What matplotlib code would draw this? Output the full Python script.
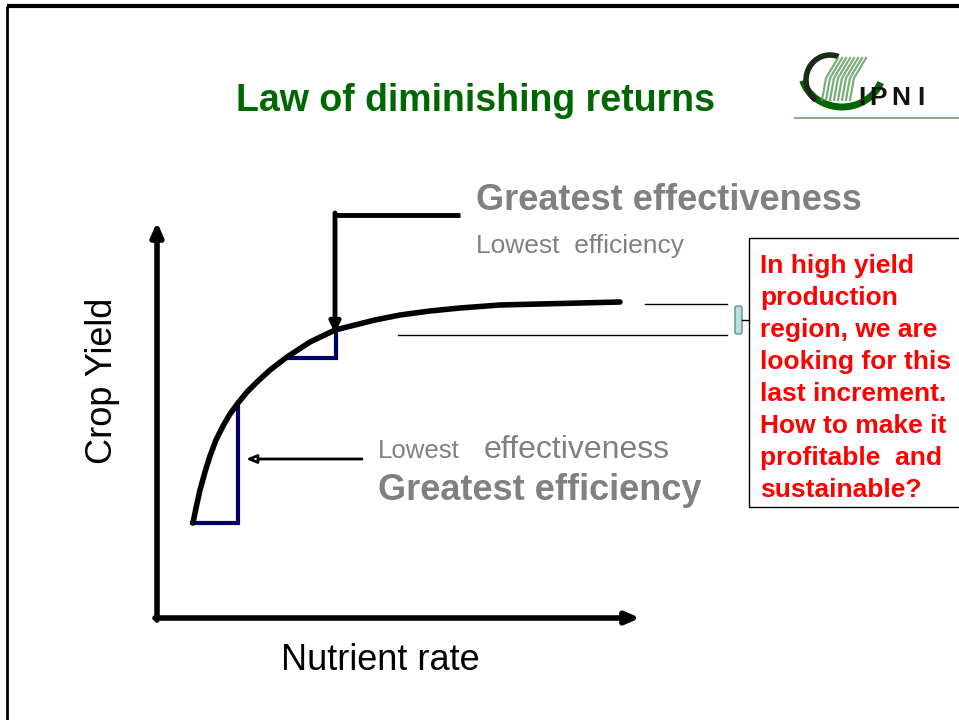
import matplotlib
matplotlib.use("Agg")
import matplotlib.pyplot as plt
from matplotlib.patches import Arc, Rectangle, FancyBboxPatch
import numpy as np

plt.rcParams['font.family'] = ['Liberation Sans', 'DejaVu Sans']

# ---- data (diagram coordinates in slide pixels) ----
curve_x = [193, 196, 200, 205, 210, 216, 223, 230, 238, 247, 257, 270, 287, 310, 335, 355,
           375, 400, 430, 460, 500, 540, 580, 620]
curve_y = [523, 508, 490, 472, 456, 440, 426, 414, 403, 392, 382, 370, 357, 342, 330, 325,
           320, 315, 311, 308, 305, 304, 303, 302]

step1_x = [192, 238, 238]
step1_y = [523, 523, 403]
step2_x = [286, 336, 336]
step2_y = [358, 358, 330]

title = "Law of diminishing returns"
box_lines = ["In high yield", "production", "region, we are", "looking for this",
             "last increment.", "How to make it", "profitable  and", "sustainable?"]
logo_letters = ["I", "P", "N", "I"]

GREEN = "#006600"
GRAY = "#808080"
NAVY = "#000066"

fig = plt.figure(figsize=(9.59, 7.2), dpi=100)
ax = fig.add_axes([0, 0, 1, 1])
ax.set_xlim(0, 959)
ax.set_ylim(720, 0)
ax.axis('off')

# slide frame (top and left)
ax.plot([7, 959], [6, 6], color='black', lw=3, solid_capstyle='butt')
ax.plot([7, 7], [6, 720], color='black', lw=2, solid_capstyle='butt')

# title
ax.text(475, 101, title, color=GREEN, fontsize=27, fontweight='bold', ha='center', va='center')

# logo
ax.add_patch(Arc((842, 70), 82, 74, theta1=18, theta2=165, color=GREEN, lw=5))
ax.add_patch(Arc((830, 80), 48, 50, theta1=125, theta2=290, color='#1a2a1a', lw=4))
for dx in range(0, 32, 4):
    ax.plot([822 + dx, 826 + dx, 838 + dx], [100, 78, 58], color='#5a9a5a', lw=1.6, alpha=0.8)
for lx, letter in zip([858, 869, 891, 917], logo_letters):
    ax.text(lx, 98, letter, color='#111111', fontsize=19, fontweight='bold', ha='left', va='center')
ax.plot([795, 959], [118, 118], color='#8aaa8a', lw=1.5)

# axes arrows
ax.annotate("", xy=(157, 222), xytext=(157, 620),
            arrowprops=dict(arrowstyle='-|>,head_length=0.8,head_width=0.35', lw=4, color='black',
                            shrinkA=0, shrinkB=0))
ax.annotate("", xy=(640, 618), xytext=(155, 618),
            arrowprops=dict(arrowstyle='-|>,head_length=0.8,head_width=0.35', lw=4, color='black',
                            shrinkA=0, shrinkB=0))

# step lines
ax.plot(step1_x, step1_y, color=NAVY, lw=3, solid_joinstyle='miter')
ax.plot(step2_x, step2_y, color=NAVY, lw=3, solid_joinstyle='miter')

# curve
ax.plot(curve_x, curve_y, color='black', lw=4, solid_capstyle='round', solid_joinstyle='round')

# arrow to first step
ax.annotate("", xy=(246, 459), xytext=(362, 459),
            arrowprops=dict(arrowstyle='-|>,head_length=0.6,head_width=0.25', lw=2, color='black',
                            fc='white', shrinkA=0, shrinkB=0))

# elbow arrow to second step
ax.plot([460, 335], [215, 215], color='black', lw=3.5, solid_capstyle='butt')
ax.annotate("", xy=(335, 333), xytext=(335, 213),
            arrowprops=dict(arrowstyle='-|>,head_length=0.6,head_width=0.3', lw=3.5, color='black',
                            shrinkA=0, shrinkB=0))

# thin horizontal lines
ax.plot([645, 727], [304, 304], color='black', lw=1)
ax.plot([398, 727], [335, 335], color='black', lw=1)

# bracket
ax.add_patch(FancyBboxPatch((735, 306), 7, 28, boxstyle='round,pad=0,rounding_size=2',
                            fc='#b8e0e4', ec='#6a8a8e', lw=1))
ax.plot([742, 749], [320, 320], color='black', lw=1)

# texts
ax.text(476, 201, "Greatest effectiveness", color=GRAY, fontsize=26, fontweight='bold', ha='left', va='center')
ax.text(476, 246, "Lowest  efficiency", color=GRAY, fontsize=19, ha='left', va='center')
ax.text(378, 451, "Lowest", color=GRAY, fontsize=18.5, ha='left', va='center')
ax.text(484, 450, "effectiveness", color=GRAY, fontsize=23, ha='left', va='center')
ax.text(378, 491, "Greatest efficiency", color=GRAY, fontsize=26, fontweight='bold', ha='left', va='center')
ax.text(103, 381, "Crop Yield", color='black', fontsize=26, rotation=90, ha='center', va='center')
ax.text(380, 660, "Nutrient rate", color='black', fontsize=26, ha='center', va='center')

# red box
ax.add_patch(Rectangle((749, 238), 215, 269, fc='white', ec='black', lw=1))
for i, line in enumerate(box_lines):
    ax.text(760, 266 + 32 * i, line, color='#ff0000', fontsize=19, fontweight='bold',
            ha='left', va='center')

fig.savefig("out.png", dpi=100)
